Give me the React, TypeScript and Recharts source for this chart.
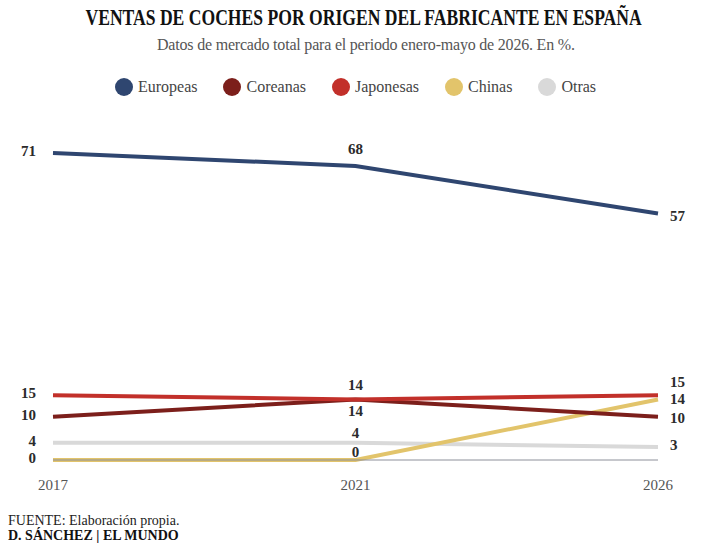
import { LineChart, Line, XAxis, YAxis, LabelList } from "recharts";

const anios = ["2017", "2021", "2026"];
const europeas = [71, 68, 57];
const coreanas = [10, 14, 10];
const japonesas = [15, 14, 15];
const chinas = [0, 0, 14];
const otras = [4, 4, 3];
const ticksIzquierda = [0, 4, 10, 15, 71];

const SERIF = '"Liberation Serif", "Times New Roman", serif';

// dibujo de abajo arriba; dy = desplazamiento de la etiqueta en 2021 y 2026
const series = [
  { key: "otras", nombre: "Otras", color: "#d9d9d9", valores: otras, dy: [-10, -2] },
  { key: "chinas", nombre: "Chinas", color: "#e2c46b", valores: chinas, dy: [-8, 0] },
  { key: "coreanas", nombre: "Coreanas", color: "#7c1f1b", valores: coreanas, dy: [12, 1] },
  { key: "japonesas", nombre: "Japonesas", color: "#c2302a", valores: japonesas, dy: [-14, -13] },
  { key: "europeas", nombre: "Europeas", color: "#2f4670", valores: europeas, dy: [-17, 2] },
];

const leyenda = ["europeas", "coreanas", "japonesas", "chinas", "otras"].map(
  (k) => series.find((s) => s.key === k)!
);

const data = anios.map((anio, i) => {
  const row: Record<string, string | number> = { anio };
  series.forEach((s) => (row[s.key] = s.valores[i]));
  return row;
});

function makeLabel(dy: number[]) {
  return (props: any) => {
    const { x, y, value, index } = props;
    if (index === 0) return null;
    const last = index === anios.length - 1;
    return (
      <text
        x={last ? x + 12 : x}
        y={y + dy[index - 1]}
        textAnchor={last ? "start" : "middle"}
        dominantBaseline="central"
        fontFamily={SERIF}
        fontWeight="bold"
        fontSize={15}
        fill="#2b2b2b"
      >
        {value}
      </text>
    );
  };
}

const LeftTick = (props: any) => {
  const { y, payload } = props;
  return (
    <text
      x={36}
      y={y - 2}
      textAnchor="end"
      dominantBaseline="central"
      fontFamily={SERIF}
      fontWeight="bold"
      fontSize={15}
      fill="#2b2b2b"
    >
      {payload.value}
    </text>
  );
};

export default function App() {
  return (
    <div
      style={{
        position: "absolute",
        top: 0,
        left: 0,
        width: 711,
        height: 550,
        background: "#fff",
        fontFamily: SERIF,
      }}
    >
      <div
        style={{
          position: "absolute",
          top: 5,
          left: 0,
          width: 711,
          textAlign: "center",
          whiteSpace: "nowrap",
        }}
      >
        <span
          style={{
            display: "inline-block",
            fontWeight: "bold",
            fontSize: 23,
            lineHeight: "26px",
            color: "#111",
            transform: "scaleX(0.765)",
            transformOrigin: "center",
          }}
        >
          VENTAS DE COCHES POR ORIGEN DEL FABRICANTE EN ESPAÑA
        </span>
      </div>
      <div
        style={{
          position: "absolute",
          top: 35,
          left: 157,
          fontSize: 16,
          lineHeight: "20px",
          letterSpacing: "-0.2px",
          color: "#555",
          whiteSpace: "nowrap",
        }}
      >
        Datos de mercado total para el periodo enero-mayo de 2026. En %.
      </div>

      <div
        style={{
          position: "absolute",
          top: 77,
          left: 0,
          width: 711,
          display: "flex",
          justifyContent: "center",
          gap: 26,
        }}
      >
        {leyenda.map((s) => (
          <div key={s.key} style={{ display: "flex", alignItems: "center", gap: 5 }}>
            <span
              style={{
                width: 18,
                height: 18,
                borderRadius: "50%",
                background: s.color,
                display: "inline-block",
              }}
            />
            <span style={{ fontSize: 16, color: "#444", lineHeight: "20px" }}>{s.nombre}</span>
          </div>
        ))}
      </div>

      <div style={{ position: "absolute", top: 0, left: 0 }}>
        <LineChart
          width={711}
          height={550}
          data={data}
          margin={{ top: 153, right: 53, bottom: 60, left: 0 }}
        >
          <XAxis
            dataKey="anio"
            height={30}
            axisLine={{ stroke: "#8d909a", strokeWidth: 1 }}
            tickLine={false}
            tickMargin={13}
            interval={0}
            tick={{ fontFamily: SERIF, fontSize: 15, fill: "#555" }}
          />
          <YAxis
            width={53}
            domain={[0, 71]}
            ticks={ticksIzquierda}
            interval={0}
            axisLine={false}
            tickLine={false}
            tick={<LeftTick />}
          />
          {series.map((s) => (
            <Line
              key={s.key}
              dataKey={s.key}
              stroke={s.color}
              strokeWidth={4}
              dot={false}
              activeDot={false}
              isAnimationActive={false}
            >
              <LabelList dataKey={s.key} content={makeLabel(s.dy)} />
            </Line>
          ))}
        </LineChart>
      </div>

      <div
        style={{
          position: "absolute",
          top: 513,
          left: 8,
          fontSize: 14,
          lineHeight: "15px",
          color: "#222",
        }}
      >
        <div>FUENTE: Elaboración propia.</div>
        <div style={{ fontWeight: "bold", color: "#111" }}>D. SÁNCHEZ | EL MUNDO</div>
      </div>
    </div>
  );
}
